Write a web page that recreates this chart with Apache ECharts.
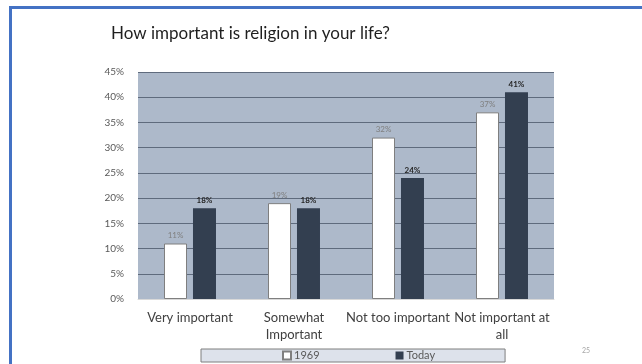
<!DOCTYPE html>
<html>
<head>
<meta charset="utf-8">
<script src="https://cdn.jsdelivr.net/npm/echarts@6/dist/echarts.min.js"></script>
<style>
  html, body { margin: 0; padding: 0; background: #ffffff; }
  #chart { width: 642px; height: 364px; }
</style>
</head>
<body>
<div id="chart"></div>
<script>
// Survey answers: how important religion is, 1969 vs. today (percent)
const categories = ['Very important', 'Somewhat Important', 'Not too important', 'Not important at all'];
const values1969 = [11, 19, 32, 37];
const valuesToday = [18, 18, 24, 41];
const seriesNames = ['1969', 'Today'];
const yTicks = { min: 0, max: 45, step: 5 };

const FONT = 'Lato, "Open Sans", sans-serif';

// wrap the two longer category names onto two lines
function wrapCategory(name) {
  return name.replace('Somewhat ', 'Somewhat\n').replace(' at all', ' at\nall');
}

const chart = echarts.init(document.getElementById('chart'), null, { renderer: 'canvas' });

chart.setOption({
  backgroundColor: '#ffffff',
  animation: false,
  textStyle: { fontFamily: FONT },
  title: {
    text: 'How important is religion in your life?',
    left: 111,
    top: 25,
    padding: 0,
    textStyle: { fontFamily: FONT, fontSize: 17, fontWeight: 'normal', color: '#1f1f1f' }
  },
  grid: {
    left: 138, right: 88, top: 72, bottom: 65,
    show: true,
    backgroundColor: '#adb9ca',
    borderWidth: 0
  },
  legend: {
    data: seriesNames,
    left: 201,
    top: 349,
    orient: 'horizontal',
    backgroundColor: '#dde2eb',
    borderColor: '#7f7f7f',
    borderWidth: 1,
    padding: [1, 70, 1, 81],
    itemGap: 76,
    itemWidth: 8,
    itemHeight: 8,
    icon: 'rect',
    textStyle: { fontFamily: FONT, fontSize: 11, lineHeight: 11, color: '#595959', padding: [0, 0, 0, -2] }
  },
  xAxis: {
    type: 'category',
    data: categories,
    axisLine: { show: true, lineStyle: { color: '#d9d9d9', width: 1 } },
    axisTick: { show: false },
    axisLabel: {
      interval: 0,
      margin: 10,
      lineHeight: 17,
      fontFamily: FONT,
      fontSize: 13,
      color: '#404040',
      formatter: wrapCategory
    }
  },
  yAxis: {
    type: 'value',
    min: yTicks.min,
    max: yTicks.max,
    interval: yTicks.step,
    axisLine: { show: false },
    axisTick: { show: false },
    axisLabel: {
      formatter: '{value}%',
      fontFamily: FONT,
      fontSize: 10,
      color: '#595959',
      margin: 14
    },
    splitLine: { show: true, lineStyle: { color: '#5f6b7d', width: 1 } }
  },
  series: [
    {
      name: seriesNames[0],
      type: 'bar',
      data: values1969,
      barWidth: 23,
      barGap: '26%',
      itemStyle: { color: '#ffffff', borderColor: '#7f7f7f', borderWidth: 1 },
      label: {
        show: true,
        position: 'top',
        distance: 4,
        formatter: '{c}%',
        fontFamily: FONT,
        fontSize: 8,
        color: '#7f7f7f'
      }
    },
    {
      name: seriesNames[1],
      type: 'bar',
      data: valuesToday,
      barWidth: 23,
      itemStyle: { color: '#333f50' },
      label: {
        show: true,
        position: 'top',
        distance: 4,
        formatter: '{c}%',
        fontFamily: FONT,
        fontSize: 8,
        fontWeight: 'bold',
        color: '#262626'
      }
    }
  ],
  graphic: [
    // slide frame: top and left edges
    { type: 'rect', shape: { x: 9, y: 6, width: 640, height: 3 }, style: { fill: '#4472c4' }, silent: true },
    { type: 'rect', shape: { x: 9, y: 6, width: 3, height: 365 }, style: { fill: '#4472c4' }, silent: true },
    // slide number
    { type: 'text', left: 582, top: 347, style: { text: '25', fontFamily: FONT, fontSize: 7, fill: '#a6a6a6' }, silent: true }
  ]
});
</script>
</body>
</html>
